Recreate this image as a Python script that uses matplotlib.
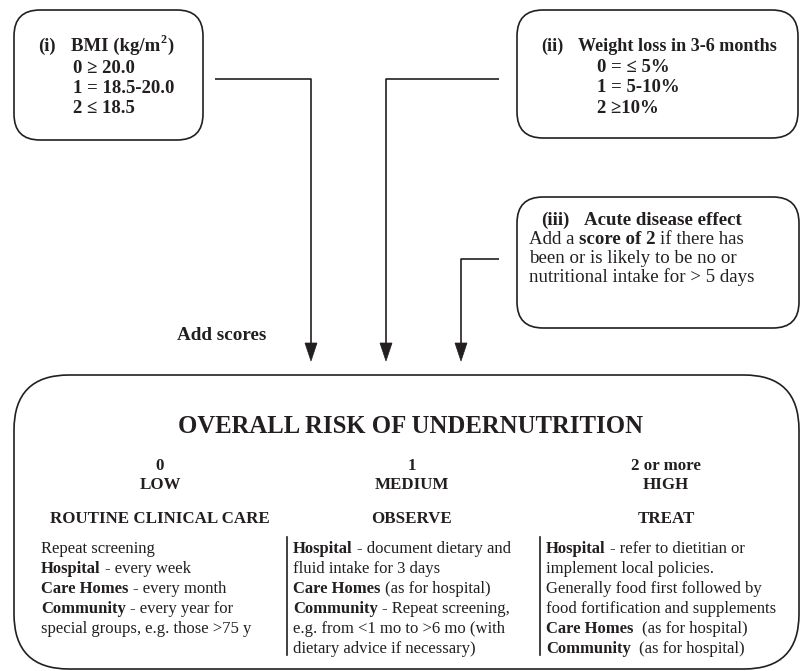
import matplotlib
matplotlib.use("Agg")
import matplotlib.pyplot as plt
from matplotlib.patches import FancyBboxPatch, Polygon

FONT = "Liberation Serif"
INK = "#231f20"
B, R = "bold", "normal"

# ---------------- content ----------------
bmi_title = [("(i)", B), ("BMI (kg/m", B)]
bmi_lines = ["0 \u2265 20.0", "1 = 18.5-20.0", "2 \u2264 18.5"]
wl_title = [("(ii)", B), ("Weight loss in 3-6 months", B)]
wl_lines = ["0 = \u2264 5%", "1 = 5-10%", "2 \u226510%"]
acute_title = [("(iii)", B), ("Acute disease effect", B)]
acute_lines = [
    [("Add a", R), (" score of 2", B), (" if there has", R)],
    [("been or is likely to be no or", R)],
    [("nutritional intake for > 5 days", R)],
]
add_label = "Add scores"
main_title = "OVERALL RISK OF UNDERNUTRITION"
risk_scores = ["0", "1", "2 or more"]
risk_levels = ["LOW", "MEDIUM", "HIGH"]
risk_actions = ["ROUTINE CLINICAL CARE", "OBSERVE", "TREAT"]
low_text = [
    [("Repeat screening", R)],
    [("Hospital", B), (" - every week", R)],
    [("Care Homes", B), (" - every month", R)],
    [("Community", B), (" - every year for", R)],
    [("special groups, e.g. those >75 y", R)],
]
medium_text = [
    [("Hospital", B), (" - document dietary and", R)],
    [("fluid intake for 3 days", R)],
    [("Care Homes", B), (" (as for hospital)", R)],
    [("Community", B), (" - Repeat screening,", R)],
    [("e.g. from <1 mo to >6 mo (with", R)],
    [("dietary advice if necessary)", R)],
]
high_text = [
    [("Hospital", B), (" - refer to dietitian or", R)],
    [("implement local policies.", R)],
    [("Generally food first followed by", R)],
    [("food fortification and supplements", R)],
    [("Care Homes", B), ("  (as for hospital)", R)],
    [("Community", B), ("  (as for hospital)", R)],
]

# ---------------- figure ----------------
W, H = 801, 671
fig = plt.figure(figsize=(W / 100, H / 100), dpi=100)
ax = fig.add_axes([0, 0, 1, 1])
ax.set_xlim(0, W)
ax.set_ylim(H, 0)
ax.axis("off")
renderer = fig.canvas.get_renderer()
LW = 1.2


def em(size):
    return size * 100 / 72


def runs(x, y, parts, size):
    for text, w in parts:
        lead = len(text) - len(text.lstrip(" "))
        x += lead * 0.25 * em(size)
        t = ax.text(x, y, text.lstrip(" "), fontsize=size, fontweight=w,
                    family=FONT, color=INK, ha="left", va="baseline")
        x += t.get_window_extent(renderer).width
    return x


def rbox(x0, y0, x1, y1, r):
    ax.add_patch(FancyBboxPatch((x0, y0), x1 - x0, y1 - y0,
                                boxstyle=f"round,pad=0,rounding_size={r}",
                                fc="white", ec=INK, lw=LW))


def arrow_path(pts):
    xs = [p[0] for p in pts]
    ys = [p[1] for p in pts]
    tipx, tipy = pts[-1]
    ax.plot(xs[:-1] + [tipx], ys[:-1] + [tipy - 12], color=INK, lw=LW,
            solid_capstyle="butt")
    ax.add_patch(Polygon([(tipx - 6, tipy - 18), (tipx + 6, tipy - 18),
                          (tipx, tipy)], closed=True, fc=INK, ec=INK, lw=0.5))


# boxes
rbox(14, 10, 203, 140, 26)
rbox(517, 10, 798, 138, 26)
rbox(517, 197, 799, 328, 26)
rbox(14, 375, 799, 669, 55)

# arrows
arrow_path([(215, 79), (311, 79), (311, 361)])
arrow_path([(499, 79), (386, 79), (386, 361)])
arrow_path([(499, 259), (461, 259), (461, 361)])

# box (i)
S1 = 13.5
runs(38, 51, [bmi_title[0]], S1)
xe = runs(71, 51, [bmi_title[1]], S1)
ax.text(xe + 0.5, 43, "2", fontsize=S1 * 0.65, fontweight=B, family=FONT,
        color=INK, ha="left", va="baseline")
ax.text(xe + 0.5 + 0.33 * em(S1), 51, ")", fontsize=S1, fontweight=B,
        family=FONT, color=INK, ha="left", va="baseline")
for i, s in enumerate(bmi_lines):
    runs(73, 73 + 20 * i, [(s, B)], S1)

# box (ii)
S2 = 13.1
runs(541, 51, [wl_title[0]], S2)
runs(578, 51, [wl_title[1]], S2)
for i, s in enumerate(wl_lines):
    runs(597, 72 + 20.5 * i, [(s, B)], S1)

# box (iii)
S3 = 13.6
runs(541, 225, [acute_title[0]], S3)
runs(584, 225, [acute_title[1]], S3)
for i, parts in enumerate(acute_lines):
    runs(529, 244 + 19 * i, parts, S3)

# add scores
ax.text(177, 340, add_label, fontsize=13.8, fontweight=B, family=FONT,
        color=INK, ha="left", va="baseline")

# main box
ax.text(411, 433, main_title, fontsize=17.8, fontweight=B, family=FONT,
        color=INK, ha="center", va="baseline")
col_cx = [160, 412, 666]
for cx, sc, lv, ac in zip(col_cx, risk_scores, risk_levels, risk_actions):
    ax.text(cx, 470, sc, fontsize=12.2, fontweight=B, family=FONT, color=INK,
            ha="center", va="baseline")
    ax.text(cx, 489, lv, fontsize=12.2, fontweight=B, family=FONT, color=INK,
            ha="center", va="baseline")
    ax.text(cx, 523, ac, fontsize=12.2, fontweight=B, family=FONT, color=INK,
            ha="center", va="baseline")

SB = 12
for xs, block in zip([41, 293, 546], [low_text, medium_text, high_text]):
    for i, parts in enumerate(block):
        runs(xs, 553 + 20 * i, parts, SB)

for dx in [287, 540]:
    ax.plot([dx, dx], [537, 655], color=INK, lw=LW)

fig.savefig("out.png", dpi=100)
